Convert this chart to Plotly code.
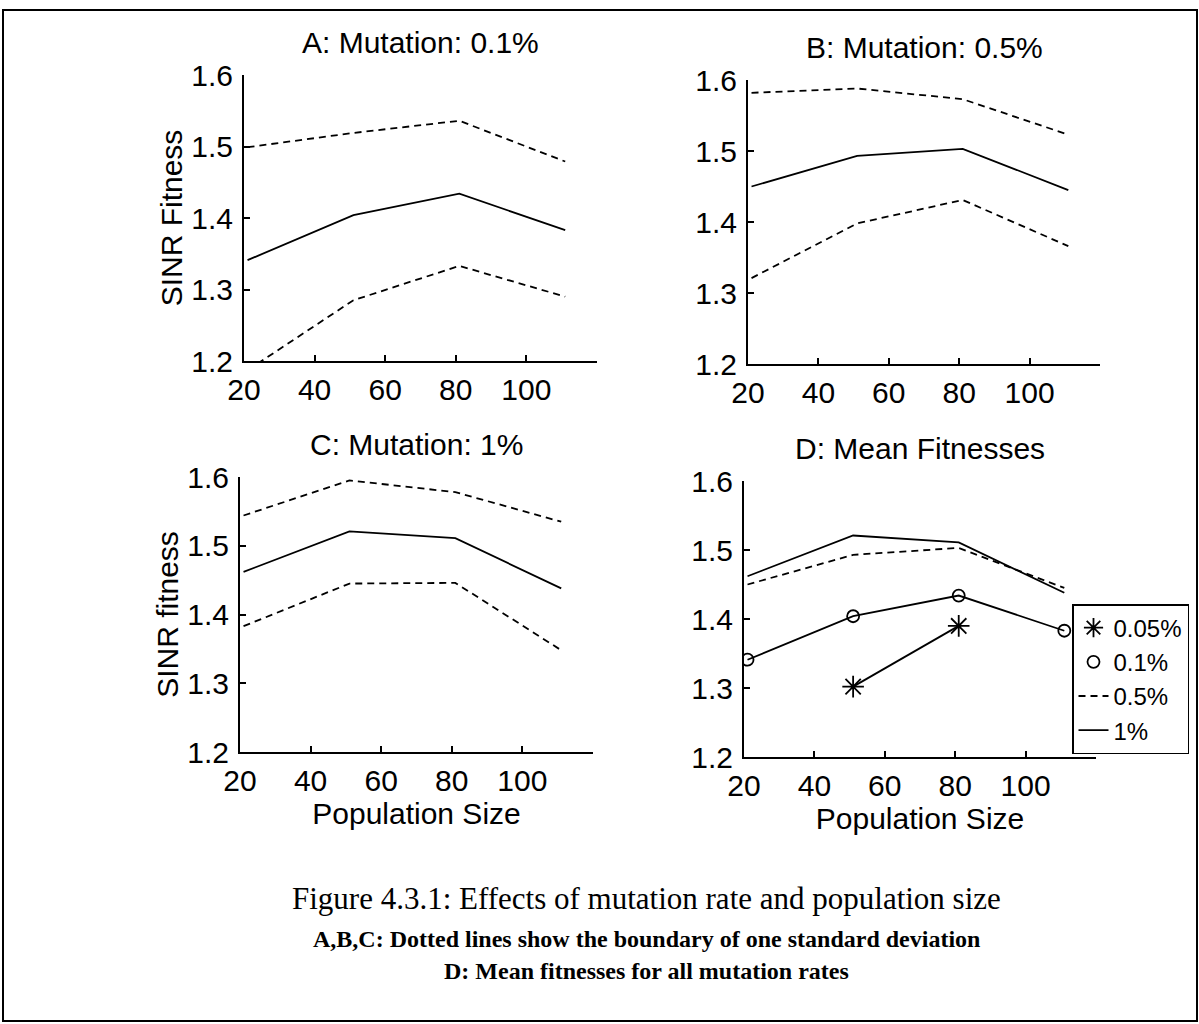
import plotly.graph_objects as go

W, H = 1199, 1024

# ---------------- data ----------------
pop_size = [21, 51, 81, 111]
x_ticks = [20, 40, 60, 80, 100]
y_ticks = [1.2, 1.3, 1.4, 1.5, 1.6]

a_mean = [1.341, 1.404, 1.434, 1.383]
a_upper = [1.499, 1.519, 1.536, 1.479]
a_lower = [1.187, 1.285, 1.333, 1.290]

b_mean = [1.450, 1.493, 1.503, 1.445]
b_upper = [1.582, 1.588, 1.573, 1.523]
b_lower = [1.321, 1.398, 1.431, 1.366]

c_mean = [1.462, 1.521, 1.511, 1.438]
c_upper = [1.544, 1.595, 1.578, 1.535]
c_lower = [1.383, 1.445, 1.446, 1.348]

d_005 = [None, 1.302, 1.390, None]

panel_titles = ["A: Mutation: 0.1%", "B: Mutation: 0.5%", "C: Mutation: 1%", "D: Mean Fitnesses"]
legend_names = ["0.05%", "0.1%", "0.5%", "1%"]
caption = ["Figure 4.3.1: Effects of mutation rate and population size",
           "<b>A,B,C: Dotted lines show the boundary of one standard deviation</b>",
           "<b>D: Mean fitnesses for all mutation rates</b>"]

# ---------------- layout helpers (pixel boxes -> paper) ----------------
def px_dom(x0, x1, y0, y1):
    return [x0 / W, x1 / W], [1 - y1 / H, 1 - y0 / H]

boxes = {
    1: (244, 597, 75, 361),
    2: (748, 1100, 80, 364),
    3: (240, 593, 477, 752),
    4: (744, 1096, 481, 757),
}

SANS = "Liberation Sans, Arial, sans-serif"
SERIF = "Liberation Serif, Times New Roman, serif"
DASH = "7px,5px"
LW = 1.8

fig = go.Figure()

def add_line(i, y, dash=None, name=None, show=False, mode="lines", symbol=None, msize=12):
    xa = "x" if i == 1 else f"x{i}"
    ya = "y" if i == 1 else f"y{i}"
    fig.add_trace(go.Scatter(
        x=pop_size, y=y, xaxis=xa, yaxis=ya, mode=mode, name=name,
        showlegend=show,
        line=dict(color="black", width=LW, dash=dash) if "lines" in mode else None,
        marker=dict(symbol=symbol, size=msize, color="black",
                    line=dict(width=1.8, color="black")) if symbol else None,
        connectgaps=False, hoverinfo="skip"))

# Panels A-C: mean (solid) and +/- one SD (dashed)
for i, (m, u, l) in enumerate([(a_mean, a_upper, a_lower),
                                (b_mean, b_upper, b_lower),
                                (c_mean, c_upper, c_lower)], start=1):
    add_line(i, u, dash=DASH)
    add_line(i, m)
    add_line(i, l, dash=DASH)

# Panel D: means of all mutation rates
add_line(4, d_005)
add_line(4, a_mean)
add_line(4, d_005, name=legend_names[0], show=True, mode="markers", symbol="asterisk-open", msize=18)
add_line(4, a_mean, name=legend_names[1], show=True, mode="markers", symbol="circle-open", msize=12)
add_line(4, b_mean, dash=DASH, name=legend_names[2], show=True)
add_line(4, c_mean, name=legend_names[3], show=True)

layout = dict(
    width=W, height=H,
    margin=dict(l=0, r=0, t=0, b=0),
    paper_bgcolor="white", plot_bgcolor="white",
    font=dict(family=SANS, color="black", size=30),
    showlegend=True,
    legend=dict(
        x=1189 / W, xanchor="right", y=1 - 604 / H, yanchor="top",
        bgcolor="white", bordercolor="black", borderwidth=1.5,
        font=dict(family=SANS, size=24, color="black"),
        itemwidth=30, tracegroupgap=0,
    ),
)

for i, (x0, x1, y0, y1) in boxes.items():
    xd, yd = px_dom(x0, x1, y0, y1)
    sfx = "" if i == 1 else str(i)
    ya = "y" if i == 1 else f"y{i}"
    xa = "x" if i == 1 else f"x{i}"
    layout[f"xaxis{sfx}"] = dict(
        domain=xd, anchor=ya, range=[20, 120], tickvals=x_ticks,
        showline=True, linecolor="black", linewidth=2, mirror=False,
        ticks="inside", ticklen=6, tickwidth=1.5, tickcolor="black",
        showgrid=False, zeroline=False, ticklabelstandoff=1,
        tickfont=dict(size=30, family=SANS, color="black"),
        automargin=False,
        title=dict(text="Population Size" if i in (3, 4) else "",
                   font=dict(size=30, family=SANS, color="black"), standoff=2),
    )
    layout[f"yaxis{sfx}"] = dict(
        domain=yd, anchor=xa, range=[1.2, 1.6], tickvals=y_ticks,
        tickformat=".1f",
        showline=True, linecolor="black", linewidth=2, mirror=False,
        ticks="inside", ticklen=6, tickwidth=1.5, tickcolor="black",
        showgrid=False, zeroline=False, ticklabelstandoff=3,
        tickfont=dict(size=30, family=SANS, color="black"),
        automargin=False,
        title=dict(text={1: "SINR Fitness", 3: "SINR fitness"}.get(i, ""),
                   font=dict(size=30, family=SANS, color="black"), standoff=0),
    )

annotations = []
for i, t in enumerate(panel_titles, start=1):
    x0, x1, y0, y1 = boxes[i]
    annotations.append(dict(
        text=t, xref="paper", yref="paper", x=(x0 + x1) / 2 / W, y=1 - (y0 - 33) / H,
        xanchor="center", yanchor="middle", showarrow=False,
        font=dict(size=30, family=SANS, color="black")))

cap_y = [898, 939, 971]
cap_sz = [31, 24, 24]
for t, yy, sz in zip(caption, cap_y, cap_sz):
    annotations.append(dict(
        text=t, xref="paper", yref="paper", x=646 / W, y=1 - yy / H,
        xanchor="center", yanchor="middle", showarrow=False,
        font=dict(size=sz, family=SERIF, color="black")))
layout["annotations"] = annotations

layout["shapes"] = [dict(type="rect", xref="paper", yref="paper",
                         x0=3 / W, x1=1197 / W, y0=1 - 1021 / H, y1=1 - 10 / H,
                         line=dict(color="black", width=2), fillcolor="rgba(0,0,0,0)")]

fig.update_layout(**layout)
fig.write_html("out.html")
